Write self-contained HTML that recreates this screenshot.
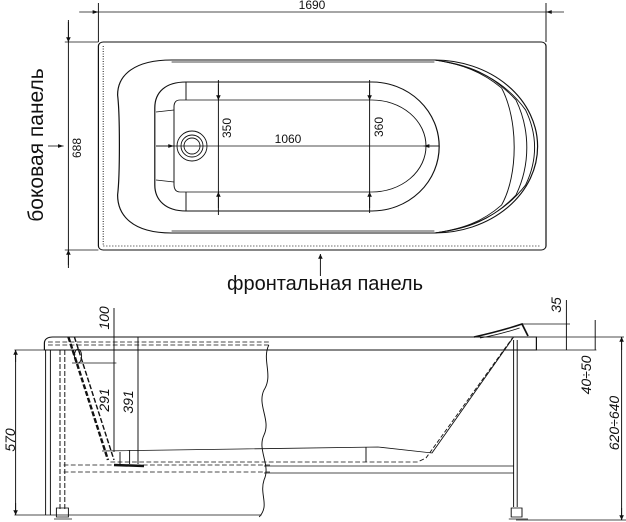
<!DOCTYPE html>
<html><head><meta charset="utf-8"><style>
html,body{margin:0;padding:0;background:#fff;}
svg{display:block;}
text{font-family:"Liberation Sans","DejaVu Sans",sans-serif;fill:#111;}
</style></head><body>
<svg width="626" height="522" viewBox="0 0 626 522" xmlns="http://www.w3.org/2000/svg">
<defs>
<marker id="a" viewBox="0 0 10 10" refX="10" refY="5" markerWidth="6" markerHeight="6" orient="auto-start-reverse"><path d="M0,1 L10,5 L0,9 z" fill="#111"/></marker>
</defs>
<g stroke="#111" fill="none" stroke-width="0.8" transform="scale(1.2,1)">
<line x1="82" y1="3" x2="82" y2="42"/>
<line x1="455" y1="3" x2="455" y2="42"/>
<line x1="66" y1="12" x2="82" y2="12" marker-end="url(#a)"/>
<line x1="82" y1="12" x2="455" y2="12"/>
<line x1="470" y1="12" x2="455" y2="12" marker-end="url(#a)"/>
<rect x="82" y="42" width="373" height="208" rx="4" stroke-width="1"/>
<path d="M86,46 L86,246 L451,246" stroke-dasharray="1,1.5"/>
<line x1="54" y1="42" x2="82" y2="42"/>
<line x1="54" y1="250" x2="82" y2="250"/>
<line x1="57" y1="20" x2="57" y2="268"/>
<line x1="57" y1="22" x2="57" y2="42" marker-end="url(#a)"/>
<line x1="57" y1="265" x2="57" y2="250" marker-end="url(#a)"/>
<line x1="40" y1="146" x2="53" y2="146" marker-end="url(#a)"/>
<line x1="267" y1="276" x2="267" y2="254" marker-end="url(#a)"/>
<path d="M143,60 L362,60 A86,86.5 0 0 1 362,233 L143,233 C110,233 98,215 98,195 C100,175 100,115 98,95 C98,75 112,60 143,60 Z" stroke-width="1"/>
<path d="M143,62 L362,62 M143,231 L362,231"/>
<path d="M362,60 C395,66 420,80 438,110 C448,135 448,160 438,185 C420,213 395,228 362,233"/>
<path d="M362,60 C390,64 410,74 430,100 C442,130 442,165 430,195 C410,220 390,229 362,233"/>
<path d="M362,60 C385,64 402,72 418,88 C432,120 432,175 418,205 C402,222 385,229 362,233"/>
<path d="M155,82 L310,82 A56,64.5 0 0 1 310,211 L155,211 C138,211 129,200 129,185 L129,108 C129,92 138,82 155,82 Z" stroke-width="1"/>
<path d="M150,100 L310,100 A45,46 0 0 1 310,192 L150,192 C146,192 145,188 145,185 L145,107 C145,103 146,100 150,100 Z"/>
<path d="M155,82 L155,100 M155,211 L155,192 M130,112 L145,110 M130,180 L145,182"/>
<line x1="182" y1="80" x2="182" y2="215"/>
<line x1="182" y1="84" x2="182" y2="100" marker-end="url(#a)"/>
<line x1="182" y1="208" x2="182" y2="192" marker-end="url(#a)"/>
<line x1="308" y1="80" x2="308" y2="213"/>
<line x1="308" y1="84" x2="308" y2="100" marker-end="url(#a)"/>
<line x1="308" y1="208" x2="308" y2="192" marker-end="url(#a)"/>
<line x1="130" y1="146" x2="366" y2="146"/>
<line x1="130" y1="146" x2="145" y2="146" marker-end="url(#a)"/>
<line x1="366" y1="146" x2="353" y2="146" marker-end="url(#a)"/>

<path d="M44,337 L447,337 L447,350 L37,350 L37,343 C37,339 40,337 44,337 Z" stroke-width="1"/>
<line x1="12" y1="350" x2="497" y2="350"/>
<line x1="40" y1="342" x2="225" y2="342" stroke-dasharray="4,2"/>
<line x1="40" y1="345" x2="225" y2="345" stroke-dasharray="4,2"/>
<line x1="38" y1="350" x2="38" y2="515"/><line x1="42" y1="350" x2="42" y2="515"/>
<line x1="50" y1="350" x2="50" y2="510" stroke-dasharray="5,2"/>
<line x1="54" y1="350" x2="54" y2="510" stroke-dasharray="5,2"/>
<rect x="47" y="508" width="10" height="9"/><line x1="45" y1="519" x2="60" y2="519"/>
<line x1="13" y1="350" x2="13" y2="515"/>
<line x1="13" y1="362" x2="13" y2="350" marker-end="url(#a)"/>
<line x1="13" y1="503" x2="13" y2="515" marker-end="url(#a)"/>
<line x1="12" y1="515" x2="218" y2="515"/>
<path d="M224,345 C218,360 228,375 220,390 C214,405 226,420 220,435 C214,450 226,465 220,480 C216,495 225,505 216,517"/>
<line x1="53" y1="465" x2="225" y2="465" stroke-dasharray="4,2"/>
<line x1="53" y1="472" x2="225" y2="472" stroke-dasharray="4,2"/>
<line x1="220" y1="466" x2="428" y2="466"/><line x1="220" y1="473" x2="428" y2="473"/>
<line x1="428" y1="340" x2="428" y2="507"/><line x1="431" y1="340" x2="431" y2="507"/>
<rect x="426" y="508" width="9" height="9"/><line x1="424" y1="519" x2="440" y2="519"/>
<line x1="430" y1="520" x2="590" y2="520"/>
<path d="M57,337 L90,460" stroke-width="2" stroke-dasharray="5,2"/>
<path d="M62,337 L95,460" stroke-width="1.2" stroke-dasharray="5,2"/>
<path d="M85,451 C150,450 250,448 315,447 L360,453 L428,337"/>
<path d="M92,462 L348,462 L355,458 L427,338" stroke-dasharray="4,2"/>
<path d="M95,465 L120,466" stroke-width="2.5"/>
<line x1="305" y1="447" x2="305" y2="462"/>
<path d="M100,452 L100,464 M108,450 L108,464 M115,450 L115,464"/>
<ellipse cx="65" cy="356" rx="3" ry="7"/>
<line x1="60" y1="363" x2="97" y2="363"/>
<line x1="95" y1="308" x2="95" y2="452"/>
<line x1="115" y1="337" x2="115" y2="452"/>
<path d="M395,337 C410,333 420,330 435,324 L440,336" stroke-width="1.5"/>
<path d="M400,338 C415,335 425,331 433,328"/>
<line x1="435" y1="324" x2="475" y2="324"/>
<line x1="472" y1="300" x2="472" y2="350"/>
<line x1="496" y1="320" x2="496" y2="350"/>
<line x1="447" y1="337" x2="520" y2="337"/>
<line x1="518" y1="337" x2="518" y2="520"/>
<line x1="518" y1="350" x2="518" y2="337" marker-end="url(#a)"/>
<line x1="518" y1="508" x2="518" y2="520" marker-end="url(#a)"/>
</g>
<g stroke="#111" fill="none" stroke-width="0.9">
<circle cx="192" cy="146" r="15"/><circle cx="192" cy="146" r="11"/><circle cx="192" cy="146" r="8"/>
</g>
<g font-size="12">
<text x="312" y="9" text-anchor="middle">1690</text>
<text x="288" y="143" text-anchor="middle">1060</text>
<text transform="translate(81,148) rotate(-90)" text-anchor="middle">688</text>
<text transform="translate(231,128) rotate(-90)" text-anchor="middle">350</text>
<text transform="translate(383,127) rotate(-90)" text-anchor="middle">360</text>
</g>
<text transform="translate(43,145) rotate(-90)" text-anchor="middle" font-size="21">боковая панель</text>
<text x="325" y="290" text-anchor="middle" font-size="20">фронтальная панель</text>
<g font-size="14" font-style="italic">
<text transform="translate(15,440) rotate(-90)" text-anchor="middle">570</text>
<text transform="translate(109,318) rotate(-90)" text-anchor="middle">100</text>
<text transform="translate(109,400) rotate(-90)" text-anchor="middle">291</text>
<text transform="translate(133,402) rotate(-90)" text-anchor="middle">391</text>
<text transform="translate(561,305) rotate(-90)" text-anchor="middle">35</text>
<text transform="translate(591,375) rotate(-90)" text-anchor="middle">40÷50</text>
<text transform="translate(619,423) rotate(-90)" text-anchor="middle">620÷640</text>
</g>
</svg>
</body></html>
